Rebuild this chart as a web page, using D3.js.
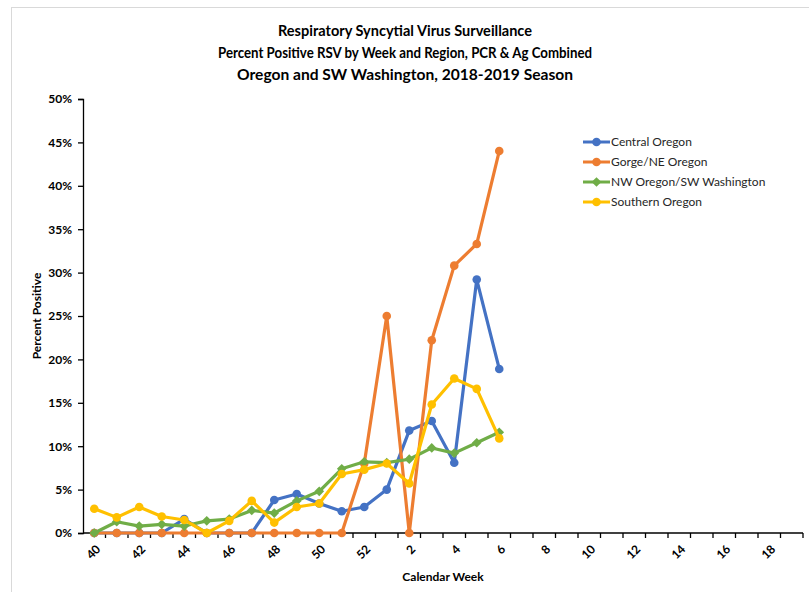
<!DOCTYPE html>
<html>
<head>
<meta charset="utf-8">
<script src="https://cdn.jsdelivr.net/npm/d3@7/dist/d3.min.js"></script>
<style>
  html, body { margin: 0; padding: 0; background: #fff; }
  svg { display: block; }
  text { font-family: Lato, "Open Sans", "Noto Sans", sans-serif; }
</style>
</head>
<body>
<svg id="chart" width="809" height="592"></svg>
<script>
// ---- Data ----
const weeks = ["40","41","42","43","44","45","46","47","48","49","50","51","52",
               "1","2","3","4","5","6","7","8","9","10","11","12","13","14","15","16","17","18","19"];
const weekLabels = ["40","42","44","46","48","50","52","2","4","6","8","10","12","14","16","18"];
const seriesNames = ["Central Oregon","Gorge/NE Oregon","NW Oregon/SW Washington","Southern Oregon"];
const centralOregon = [0,0,0,0,1.6,0,0,0,3.8,4.5,3.4,2.5,3.0,5.0,11.8,12.9,8.1,29.2,18.9];
const gorgeNEOregon = [0,0,0,0,0,0,0,0,0,0,0,0,8.0,25.0,0,22.2,30.8,33.3,44.0];
const nwOregonSWWashington = [0,1.3,0.8,1.0,0.8,1.4,1.6,2.6,2.3,3.7,4.8,7.4,8.2,8.1,8.5,9.8,9.2,10.4,11.6];
const southernOregon = [2.8,1.8,3.0,1.9,1.5,0,1.4,3.7,1.2,3.0,3.4,6.8,7.3,8.0,5.7,14.8,17.8,16.6,10.9];
const yTicks = [0,5,10,15,20,25,30,35,40,45,50];
const titleLines = ["Respiratory Syncytial Virus Surveillance",
                    "Percent Positive RSV by Week and Region, PCR & Ag Combined",
                    "Oregon and SW Washington, 2018-2019 Season"];

const colors = ["#4472C4","#ED7D31","#70AD47","#FFC000"];
const markers = ["circle","circle","diamond","circle"];
const allSeries = [centralOregon, gorgeNEOregon, nwOregonSWWashington, southernOregon];

// ---- Layout ----
const svg = d3.select("#chart");
const L = 83, R = 803, T = 99, B = 533;

// outer border
svg.append("rect").attr("x", 11.5).attr("y", 7.5).attr("width", 850).attr("height", 650)
  .attr("fill", "none").attr("stroke", "#d9d9d9").attr("stroke-width", 1);

const x = d3.scaleBand().domain(weeks).range([L, R]).padding(0);
const y = d3.scaleLinear().domain([0, 50]).range([B, T]);

// Title
const titleY = [36, 58, 80];
const titleW = [254, 374, 336];
titleLines.forEach((t, i) => {
  svg.append("text").attr("x", 405).attr("y", titleY[i])
    .attr("text-anchor", "middle").attr("font-weight", "bold")
    .attr("font-size", 15.5).attr("fill", "#000")
    .attr("textLength", titleW[i]).attr("lengthAdjust", "spacingAndGlyphs")
    .text(t);
});

// Y axis
const yAxis = d3.axisLeft(y).tickValues(yTicks).tickFormat(d => d + "%").tickSize(5).tickPadding(6);
const gy = svg.append("g").attr("transform", `translate(${L},0)`).call(yAxis);
gy.select(".domain").attr("stroke", "#000").attr("stroke-width", 1.3);
gy.selectAll(".tick line").attr("stroke", "#000").attr("stroke-width", 1.3);
gy.selectAll(".tick text").attr("font-size", 12).attr("font-weight", "bold").attr("fill", "#000")
  .attr("font-family", "Lato, sans-serif");

// X axis
const gx = svg.append("g").attr("transform", `translate(0,${B})`);
gx.append("line").attr("x1", L).attr("x2", R).attr("y1", 0).attr("y2", 0)
  .attr("stroke", "#000").attr("stroke-width", 1.3);
gx.selectAll("line.tk").data(weeks).enter().append("line").attr("class", "tk")
  .attr("x1", d => x(d) + x.bandwidth()).attr("x2", d => x(d) + x.bandwidth())
  .attr("y1", 0).attr("y2", 5).attr("stroke", "#000").attr("stroke-width", 1.3);
gx.selectAll("text.tl").data(weekLabels).enter().append("text").attr("class", "tl")
  .attr("transform", d => `translate(${x(d) + x.bandwidth() / 2 + 4},${14}) rotate(-45)`)
  .attr("text-anchor", "end").attr("dy", "0.35em")
  .attr("font-size", 12).attr("font-weight", "bold").attr("fill", "#000").text(d => d);

// Axis titles
svg.append("text").attr("transform", `translate(41,${316}) rotate(-90)`)
  .attr("text-anchor", "middle").attr("font-size", 12).attr("font-weight", "bold")
  .attr("fill", "#000").text("Percent Positive");
svg.append("text").attr("x", 443).attr("y", 581)
  .attr("text-anchor", "middle").attr("font-size", 12).attr("font-weight", "bold")
  .attr("fill", "#000").text("Calendar Week");

// Series
const line = d3.line().x((d, i) => x(weeks[i]) + x.bandwidth() / 2).y(d => y(d));
const diamond = d3.symbol().type(d3.symbolDiamond2).size(60);

function drawMarker(g, type, color, cx, cy) {
  if (type === "circle") {
    g.append("circle").attr("cx", cx).attr("cy", cy).attr("r", 4.3).attr("fill", color);
  } else {
    g.append("path").attr("d", diamond()).attr("transform", `translate(${cx},${cy})`).attr("fill", color);
  }
}

allSeries.forEach((vals, s) => {
  const g = svg.append("g");
  g.append("path").datum(vals).attr("d", line).attr("fill", "none")
    .attr("stroke", colors[s]).attr("stroke-width", 3.2).attr("stroke-linejoin", "round");
  vals.forEach((v, i) => drawMarker(g, markers[s], colors[s], x(weeks[i]) + x.bandwidth() / 2, y(v)));
});

// Legend
const lg = svg.append("g");
seriesNames.forEach((n, i) => {
  const cy = 142 + i * 20;
  lg.append("line").attr("x1", 583).attr("x2", 610).attr("y1", cy).attr("y2", cy)
    .attr("stroke", colors[i]).attr("stroke-width", 3);
  drawMarker(lg, markers[i], colors[i], 596.5, cy);
  lg.append("text").attr("x", 611).attr("y", cy).attr("dy", "0.35em")
    .attr("font-size", 12).attr("fill", "#262626").text(n);
});
</script>
</body>
</html>
